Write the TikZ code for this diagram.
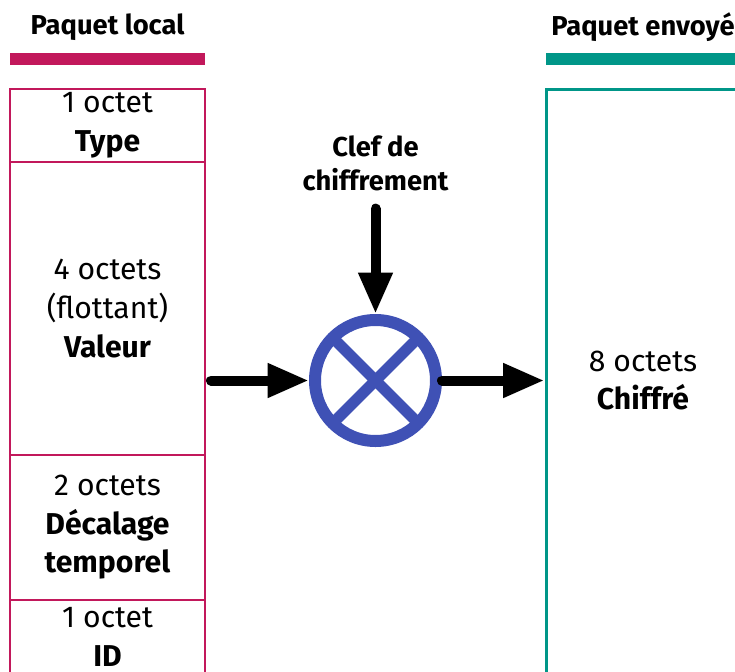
\documentclass[tikz,border=0pt]{standalone}
\usepackage{fontspec}
\setmainfont{Fira Sans}
\usetikzlibrary{arrows.meta}
\definecolor{local}{HTML}{C2185B}
\definecolor{sent}{HTML}{009688}
\definecolor{xor}{HTML}{3F51B5}

\begin{document}
\begin{tikzpicture}[x=.75pt,y=-.75pt,
  field/.style={draw=local,line width=1.5pt,minimum width=146.25pt,inner sep=0pt,align=center,font=\fontsize{22.6}{28.9}\selectfont},
  head/.style={align=center,font=\bfseries\fontsize{20.5}{25.5}\selectfont},
  flow/.style={-{Triangle[length=31pt,width=24pt]},line width=7.5pt,line cap=round}]
  \useasboundingbox (0,0) rectangle (735,671);
  \clip (0,0) rectangle (735,671);

  % local packet
  \node[head] (ltitle) at (107.5,27) {Paquet local};
  \fill[local] (10,53) rectangle (205,65);
  \node[field,minimum height=54.75pt] (type) at (107.5,125.5) {1 octet\\\textbf{Type}};
  \node[field,minimum height=219.75pt] (valeur) at (107.5,308.5) {4 octets\\(flottant)\\\textbf{Valeur}};
  \node[field,minimum height=108.75pt] (decal) at (107.5,527.5) {2 octets\\\textbf{Décalage}\\\textbf{temporel}};
  \node[field,minimum height=55.5pt] (id) at (107.5,637) {1 octet\\\textbf{ID}};

  % sent packet
  \node[head] (stitle) at (643,27) {Paquet envoyé};
  \fill[sent] (546,53) rectangle (742,65);
  \node[draw=sent,line width=2.25pt,minimum width=145.5pt,minimum height=444pt,inner sep=0pt] (chiffre) at (643,385) {};
  \node[align=center,font=\fontsize{22.6}{28.9}\selectfont] (ctext) at (643,380.5) {8 octets\\\textbf{Chiffré}};

  % xor with the key
  \node[head] (key) at (375.5,163) {Clef de\\chiffrement};
  \node[circle,draw=xor,line width=9pt,minimum size=90.75pt,inner sep=0pt] (mix) at (375.5,380.5) {};
  \draw[xor,line width=8.25pt] ([shift={(45:60.5)}]mix.center) -- ([shift={(225:60.5)}]mix.center);
  \draw[xor,line width=8.25pt] ([shift={(135:60.5)}]mix.center) -- ([shift={(315:60.5)}]mix.center);

  \draw[flow] ([yshift=-10pt]key.south) -- (mix.north);
  \draw[flow] ([xshift=3.75pt]valeur.east |- mix.west) -- (mix.west);
  \draw[flow] (mix.east) -- (chiffre.west |- mix.east);
\end{tikzpicture}
\end{document}
